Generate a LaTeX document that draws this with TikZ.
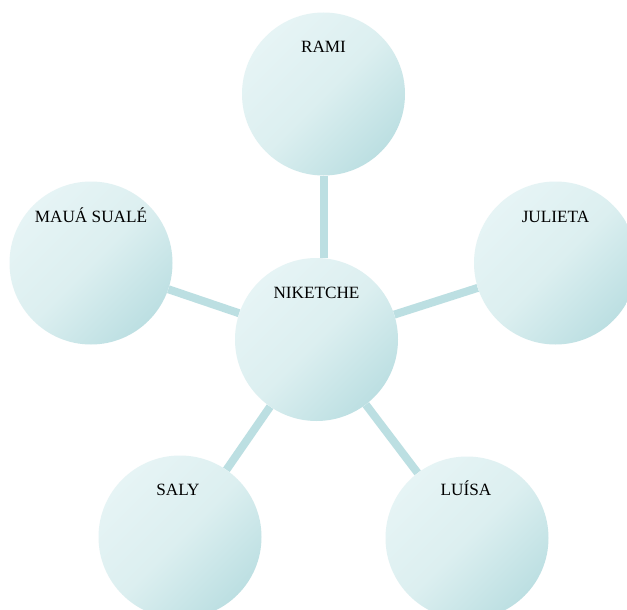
\documentclass[tikz,border=0pt]{standalone}
\usepackage{fontspec}
\setmainfont{Liberation Serif}
\usetikzlibrary{calc}
\definecolor{linkc}{HTML}{BCDFE2}
\definecolor{lightc}{HTML}{E6F4F5}
\definecolor{midc}{HTML}{DCEFF0}
\definecolor{darkc}{HTML}{BCDFE2}
\tikzset{
  bubble/.style={circle, minimum size=163pt, inner sep=0pt, draw=none,
    top color=lightc, bottom color=darkc, middle color=midc, shading angle=45},
  link/.style={line width=8pt, draw=linkc},
  lbl/.style={anchor=base, font=\fontsize{17.2pt}{20pt}\selectfont, inner sep=0pt}
}
\begin{document}
\begin{tikzpicture}[x=1pt, y=-1pt]
\clip (0,0) rectangle (627,610);
\useasboundingbox (0,0) rectangle (627,610);
\fill[white] (0,0) rectangle (627,610);
% coordinates of the circles (nodes without shading, used for connectors)
\node[circle, minimum size=163pt, inner sep=0pt] (nik) at (316.5,339.5) {};
\node[circle, minimum size=163pt, inner sep=0pt] (rami) at (323.5,94) {};
\node[circle, minimum size=163pt, inner sep=0pt] (maua) at (91,263) {};
\node[circle, minimum size=163pt, inner sep=0pt] (jul) at (555.5,263) {};
\node[circle, minimum size=163pt, inner sep=0pt] (saly) at (180,537) {};
\node[circle, minimum size=163pt, inner sep=0pt] (luisa) at (467,538) {};
% connectors
\draw[link] (rami.south) -- (rami.south |- nik.north);
\draw[link] (maua) -- (nik);
\draw[link] (jul) -- (nik);
\draw[link] (saly) -- (nik);
\draw[link] (luisa) -- (nik);
% shaded circles on top
\node[bubble] (nikc) at (nik.center) {};
\node[bubble] (ramic) at (rami.center) {};
\node[bubble] (mauac) at (maua.center) {};
\node[bubble] (julc) at (jul.center) {};
\node[bubble] (salyc) at (saly.center) {};
\node[bubble] (luisac) at (luisa.center) {};
% labels
\node[lbl] (tnik) at ($(nik)+(0,-41.5)$) {NIKETCHE};
\node[lbl] (trami) at ($(rami)+(0,-41)$) {RAMI};
\node[lbl] (tmaua) at ($(maua)+(0,-41)$) {MAUÁ SUALÉ};
\node[lbl] (tjul) at ($(jul)+(0,-41)$) {JULIETA};
\node[lbl] (tsaly) at ($(saly)+(-2,-42)$) {SALY};
\node[lbl] (tluisa) at ($(luisa)+(-1,-43)$) {LUÍSA};
\end{tikzpicture}
\end{document}
